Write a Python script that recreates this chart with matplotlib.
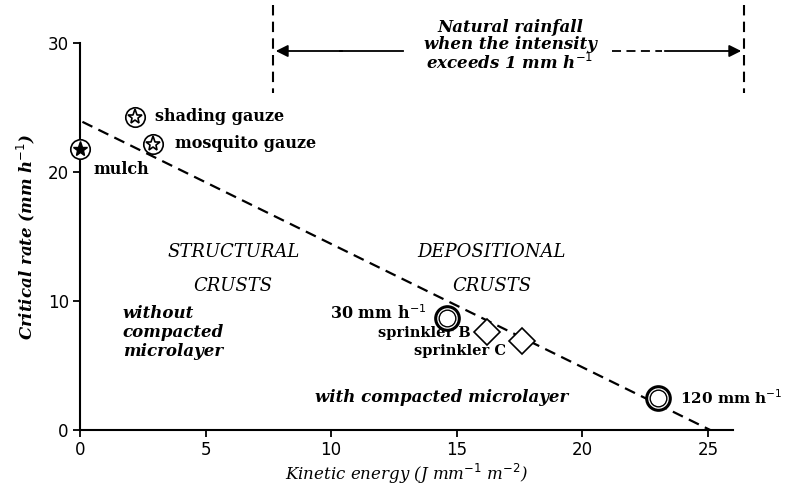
import numpy as np
import matplotlib.pyplot as plt

# kinetic energy (J mm-1 m-2) and critical rate (mm h-1)
gauze_x = [2.2, 2.9]
gauze_y = [24.3, 22.2]
gauze_labels = ['shading gauze', 'mosquito gauze']

mulch_x = [0.0]
mulch_y = [21.8]

rain_x = [14.6, 23.0]
rain_y = [8.7, 2.5]
rain_labels = ['30 mm h$^{-1}$', '120 mm h$^{-1}$']

sprinkler_x = [16.2, 17.6]
sprinkler_y = [7.6, 6.9]
sprinkler_labels = ['sprinkler B', 'sprinkler C']

# boundary line between structural and depositional crusts
line_x = [0.1, 25.1]
line_y = [23.9, 0.0]

serif = 'DejaVu Serif'
plt.rcParams['font.family'] = ['DejaVu Sans']

fig = plt.figure(figsize=(7.91, 4.90), dpi=100)
ax = fig.add_axes([0.101, 0.122, 0.826, 0.79])
ax.set_xlim(0, 26)
ax.set_ylim(0, 30)
for s in ['top', 'right']:
    ax.spines[s].set_visible(False)
ax.spines['left'].set_linewidth(1.5)
ax.spines['bottom'].set_linewidth(1.5)
ax.set_xticks([0, 5, 10, 15, 20, 25])
ax.set_yticks([0, 10, 20, 30])
ax.tick_params(direction='out', length=5, width=1.3, labelsize=12, pad=3)

ax.plot(line_x, line_y, ls=(0, (5, 3)), color='black', lw=1.6)

# markers
ax.plot(gauze_x, gauze_y, 'o', ms=14, mfc='white', mec='black', mew=1.2, clip_on=False)
ax.plot(gauze_x, gauze_y, '*', ms=11, mfc='white', mec='black', mew=1.2, clip_on=False)
ax.plot(mulch_x, mulch_y, 'o', ms=14, mfc='white', mec='black', mew=1.2, clip_on=False, zorder=5)
ax.plot(mulch_x, mulch_y, '*', ms=11, color='black', clip_on=False, zorder=6)
ax.plot(rain_x, rain_y, 'o', ms=17, mfc='white', mec='black', mew=2.2, zorder=5)
ax.plot(rain_x, rain_y, 'o', ms=12, mfc='none', mec='black', mew=1.0, zorder=6)
ax.plot(sprinkler_x, sprinkler_y, 'D', ms=13, mfc='white', mec='black', mew=1.2, zorder=5)

lab = dict(fontsize=11.5, fontweight='bold', family=serif, va='center')
ax.text(gauze_x[0] + 0.8, gauze_y[0], gauze_labels[0], ha='left', **lab)
ax.text(gauze_x[1] + 0.9, gauze_y[1], gauze_labels[1], ha='left', **lab)
ax.text(mulch_x[0] + 0.55, mulch_y[0] - 1.6, 'mulch', ha='left', **lab)
ax.text(rain_x[0] - 0.8, rain_y[0] + 0.3, rain_labels[0], ha='right', **lab)
ax.text(rain_x[1] + 0.9, rain_y[1], rain_labels[1], ha='left',
        fontsize=11, fontweight='bold', family=serif, va='center')
spr = dict(fontsize=10.5, fontweight='bold', family=serif, va='center', ha='right')
ax.text(sprinkler_x[0] - 0.65, sprinkler_y[0] - 0.1, sprinkler_labels[0], **spr)
ax.text(sprinkler_x[1] - 0.65, sprinkler_y[1] - 0.75, sprinkler_labels[1], **spr)

reg = dict(fontsize=13, style='italic', family=serif, ha='center', va='center')
ax.text(6.1, 13.8, 'STRUCTURAL', **reg)
ax.text(6.1, 11.2, 'CRUSTS', **reg)
ax.text(16.4, 13.8, 'DEPOSITIONAL', **reg)
ax.text(16.4, 11.2, 'CRUSTS', **reg)
ax.text(1.7, 7.6, 'without\ncompacted\nmicrolayer', fontsize=12, style='italic',
        fontweight='bold', family=serif, ha='left', va='center', linespacing=1.15)
ax.text(14.4, 2.5, 'with compacted microlayer', fontsize=12, style='italic',
        fontweight='bold', family=serif, ha='center', va='center')

ax.set_xlabel('Kinetic energy (J mm$^{-1}$ m$^{-2}$)', fontsize=12, style='italic',
              family=serif, labelpad=2)
ax.set_ylabel('Critical rate (mm h$^{-1}$)', fontsize=12, style='italic',
              fontweight='bold', family=serif, labelpad=8)

# natural rainfall range above the plot (in figure coordinates)
def fx(px):
    return px / 791


def fy(py):
    return 1 - py / 490


for px in [273, 744]:
    fig.add_artist(plt.Line2D([fx(px), fx(px)], [fy(5), fy(93)], ls=(0, (5, 3)),
                              color='black', lw=1.5))
ann = dict(arrowstyle='-|>', color='black', lw=1.3, mutation_scale=18)
fig.add_artist(plt.Line2D([fx(403), fx(340)], [fy(51), fy(51)], color='black', lw=1.3))
ax.annotate('', xy=(fx(273), fy(51)), xytext=(fx(345), fy(51)),
            xycoords='figure fraction', textcoords='figure fraction', arrowprops=ann)
fig.add_artist(plt.Line2D([fx(612), fx(662)], [fy(51), fy(51)], ls=(0, (5, 3)),
                          color='black', lw=1.3))
ax.annotate('', xy=(fx(744), fy(51)), xytext=(fx(662), fy(51)),
            xycoords='figure fraction', textcoords='figure fraction', arrowprops=ann)
fig.text(fx(510), fy(46), 'Natural rainfall\nwhen the intensity\nexceeds 1 mm h$^{-1}$',
         fontsize=12, style='italic', fontweight='bold', family=serif,
         ha='center', va='center', linespacing=1.0)

fig.savefig('out.png', dpi=100)
